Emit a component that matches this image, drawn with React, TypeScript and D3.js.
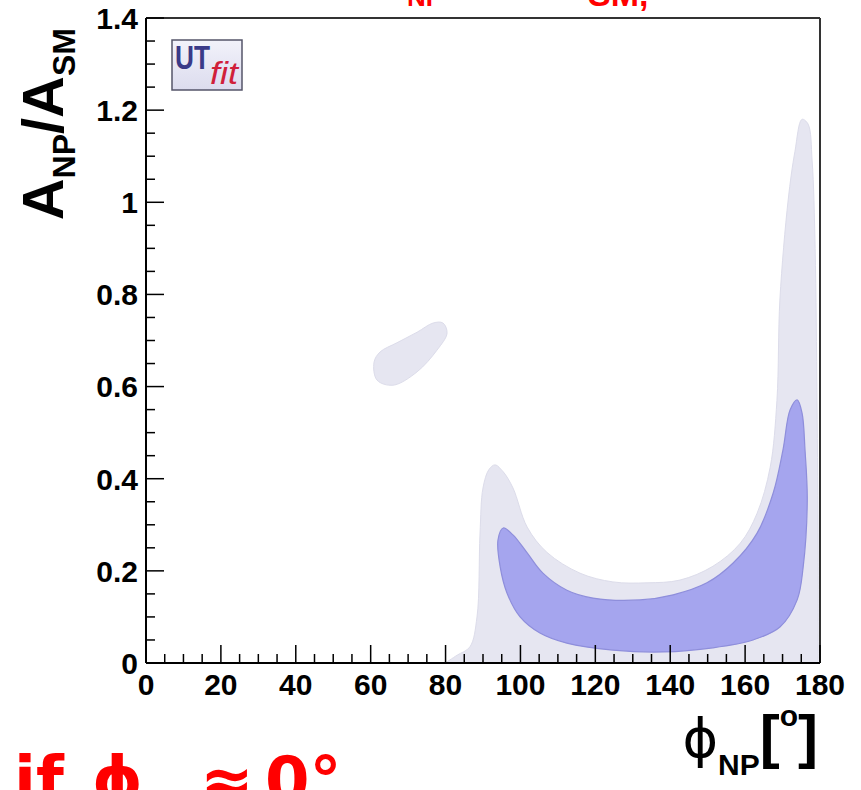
import React from "react";
import * as d3 from "d3";

// ---- data (phi_NP in degrees, A_NP/A_SM) ----
const outerContour: [number, number][] = [
  [79.9, 0], [83.1, 0.017], [86.5, 0.035], [88.4, 0.1], [89.2, 0.28], [90.0, 0.38],
  [91.6, 0.42], [93.2, 0.43], [95.4, 0.415], [98.0, 0.38], [101.8, 0.295], [107.1, 0.24],
  [115.9, 0.195], [124.7, 0.176], [133.8, 0.174], [142.6, 0.18], [151.4, 0.21],
  [158.7, 0.26], [163.2, 0.325], [166.7, 0.425], [168.5, 0.57], [169.3, 0.79],
  [171.5, 1.005], [173.3, 1.11], [175.2, 1.18], [176.8, 1.17], [177.9, 1.09],
  [178.7, 0.9], [179.2, 0.57], [179.5, 0.245], [179.5, 0],
];
const innerContour: [number, number][] = [
  [95.4, 0.293], [94.0, 0.267], [94.6, 0.208], [96.4, 0.152], [99.9, 0.1], [105.2, 0.065],
  [112.4, 0.043], [124.7, 0.028], [138.1, 0.024], [151.4, 0.033], [162.1, 0.05],
  [169.3, 0.078], [173.9, 0.137], [175.5, 0.208], [176.6, 0.354], [176.0, 0.462],
  [175.2, 0.543], [173.9, 0.571], [172.0, 0.549], [170.1, 0.462], [167.5, 0.369],
  [163.2, 0.282], [156.8, 0.217], [149.8, 0.174], [140.8, 0.148], [131.9, 0.137],
  [119.4, 0.141], [112.4, 0.158], [106.0, 0.195], [101.8, 0.239], [98.0, 0.278],
];
const islandContour: [number, number][] = [
  [60.9, 0.653], [61.7, 0.614], [66.0, 0.603], [72.4, 0.632], [77.7, 0.679],
  [80.4, 0.716], [79.3, 0.738], [76.7, 0.738], [72.4, 0.718], [67.0, 0.695], [62.5, 0.675],
];
const xMajorTicks = [0, 20, 40, 60, 80, 100, 120, 140, 160, 180];
const yMajorTicks = [0, 0.2, 0.4, 0.6, 0.8, 1.0, 1.2, 1.4];
const yTickLabels = ["0", "0.2", "0.4", "0.6", "0.8", "1", "1.2", "1.4"];

const W = 861;
const H = 790;
const FONT = "'Liberation Sans', Arial, Helvetica, sans-serif";

export default function App() {
  const x = d3.scaleLinear().domain([0, 180]).range([146, 820]);
  const y = d3.scaleLinear().domain([0, 1.4]).range([663, 18]);

  const openLine = d3
    .line<[number, number]>()
    .x((d) => x(d[0]))
    .y((d) => y(d[1]))
    .curve(d3.curveCatmullRom.alpha(0.5));
  const closedLine = d3
    .line<[number, number]>()
    .x((d) => x(d[0]))
    .y((d) => y(d[1]))
    .curve(d3.curveCatmullRomClosed.alpha(0.5));

  const xMinor = d3.range(0, 180.001, 5);
  const yMinor = d3.range(0, 1.4001, 0.05);
  const majLen = 18;
  const minLen = 9;

  return (
    <svg
      width={W}
      height={H}
      style={{ position: "absolute", left: 0, top: 0, background: "#fff" }}
      fontFamily={FONT}
    >
      <rect x={0} y={0} width={W} height={H} fill="#ffffff" />
      {/* cut-off red title */}
      <text fill="#ff0000" fontWeight="bold" fontFamily={FONT}>
        <tspan x={407} y={6} fontSize={26}>NP</tspan>
        <tspan x={588} y={6} fontSize={34}>SM,</tspan>
      </text>

      {/* contours */}
      <path d={(openLine(outerContour) || "") + "Z"} fill="#e6e6f1" stroke="#dcdcea" strokeWidth={1} />
      <path d={closedLine(islandContour) || ""} fill="#e6e6f1" stroke="#dcdcea" strokeWidth={1} />
      <path d={closedLine(innerContour) || ""} fill="#a5a5ee" stroke="#8e8edb" strokeWidth={1.2} />

      {/* frame */}
      <line x1={x(0)} x2={x(180)} y1={y(1.4)} y2={y(1.4)} stroke="#333" strokeWidth={2} />
      <line x1={x(180)} x2={x(180)} y1={y(1.4)} y2={y(0)} stroke="#333" strokeWidth={2} />
      <line x1={x(0)} x2={x(180)} y1={y(0)} y2={y(0)} stroke="#000" strokeWidth={2} />
      <line x1={x(0)} x2={x(0)} y1={y(1.4)} y2={y(0)} stroke="#000" strokeWidth={2} />

      {/* ticks */}
      {xMinor.map((v) => {
        const major = Math.abs(v % 20) < 1e-6;
        return (
          <line key={"xm" + v} x1={x(v)} x2={x(v)} y1={y(0)} y2={y(0) - (major ? majLen : minLen)} stroke="#000" strokeWidth={1.5} />
        );
      })}
      {yMinor.map((v, i) => {
        const major = i % 4 === 0;
        return (
          <line key={"ym" + i} x1={x(0)} x2={x(0) + (major ? majLen : minLen)} y1={y(v)} y2={y(v)} stroke="#000" strokeWidth={1.5} />
        );
      })}

      {/* tick labels */}
      {xMajorTicks.map((v) => (
        <text key={"xl" + v} x={x(v)} y={695} textAnchor="middle" fontSize={30} fontWeight="bold">
          {String(v)}
        </text>
      ))}
      {yMajorTicks.map((v, i) => (
        <text key={"yl" + i} x={138} y={y(v)} dy="0.36em" textAnchor="end" fontSize={30} fontWeight="bold">
          {yTickLabels[i]}
        </text>
      ))}

      {/* y axis title */}
      <text transform="translate(63,28) rotate(-90)" textAnchor="end" fontSize={58} fontWeight="bold">
        A<tspan fontSize={32} dy={12}>NP</tspan>
        <tspan fontSize={58} dy={-12}>/A</tspan>
        <tspan fontSize={32} dy={12}>SM</tspan>
      </text>

      {/* x axis title */}
      <text x={818} y={757} textAnchor="end">
        <tspan fontFamily="'DejaVu Sans'" fontSize={54}>ϕ</tspan>
        <tspan fontSize={30} fontWeight="bold" dy={18}>NP</tspan>
        <tspan fontSize={60} fontWeight="bold" dy={-18}>[</tspan>
        <tspan fontSize={30} fontWeight="bold" dy={-31}>o</tspan>
        <tspan fontSize={60} fontWeight="bold" dy={31}>]</tspan>
      </text>

      {/* UTfit logo */}
      <defs>
        <linearGradient id="utg" x1="0" y1="0" x2="0" y2="1">
          <stop offset="0" stopColor="#f2f2fa" />
          <stop offset="1" stopColor="#dcdcee" />
        </linearGradient>
      </defs>
      <rect x={172} y={40} width={70} height={50} fill="url(#utg)" stroke="#55556a" strokeWidth={1.5} />
      <text x={175} y={69} fontSize={33} fontWeight="bold" fill="#3a3a88" textLength={35} lengthAdjust="spacingAndGlyphs">UT</text>
      <text x={210} y={84} fontSize={32} fontStyle="italic" fill="#d0203a" textLength={28} lengthAdjust="spacingAndGlyphs">fit</text>

      {/* bottom red annotation (cut off) */}
      <text fill="#ff0000" fontWeight="bold" fontFamily="'DejaVu Sans'" fontSize={64}>
        <tspan x={14} y={802}>if</tspan>
        <tspan x={92} y={802}>ϕ</tspan>
        <tspan x={140} y={822} fontSize={36}>NP</tspan>
        <tspan x={200} y={802}>≈</tspan>
        <tspan x={265} y={802}>0°</tspan>
      </text>
    </svg>
  );
}
